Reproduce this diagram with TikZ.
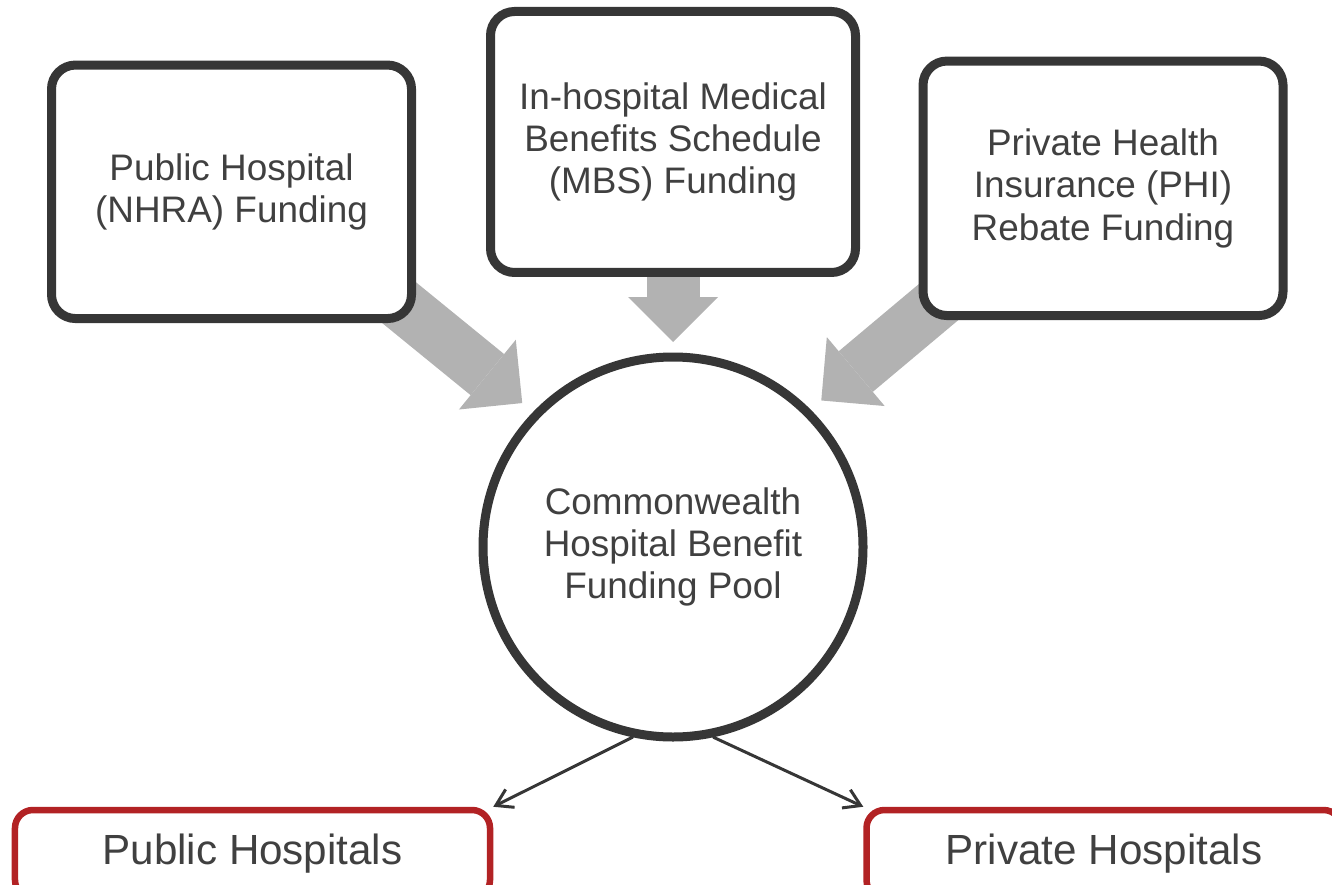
\documentclass[tikz,border=0pt]{standalone}
\usepackage{fontspec}
\setmainfont{Liberation Sans}
\usetikzlibrary{arrows.meta,backgrounds}

\definecolor{boxline}{RGB}{54,54,54}
\definecolor{boxtext}{RGB}{64,64,64}
\definecolor{hospred}{RGB}{178,34,36}
\definecolor{flowgray}{RGB}{178,178,178}

\tikzset{
  fundbox/.style={draw=boxline, line width=0.09cm, rounded corners=0.24cm, fill=white,
    text=boxtext, align=center, font=\fontsize{10.5}{12}\selectfont},
  poolnode/.style={circle, draw=boxline, line width=0.09cm, fill=white, text=boxtext,
    align=center, minimum size=3.8cm, font=\fontsize{10.5}{12}\selectfont},
  hospbox/.style={draw=hospred, line width=0.065cm, rounded corners=0.18cm, fill=white,
    text=boxtext, minimum width=4.75cm, minimum height=0.88cm, font=\fontsize{12}{14}\selectfont},
  feed/.style={draw=flowgray, line width=0.53cm, -{Triangle[width=0.9cm,length=0.45cm,line width=0pt]}},
  payout/.style={draw=boxline, line width=0.03cm, line cap=round, -{Straight Barb[length=0.16cm,width=0.2cm]}}
}

\begin{document}
\begin{tikzpicture}
\useasboundingbox (0,0) rectangle (13.32,-8.84);

% funding sources
\node[fundbox, minimum width=3.6cm, minimum height=2.535cm] (nhra) at (2.315,-1.918) {Public Hospital\\(NHRA) Funding};
\node[fundbox, minimum width=3.65cm, minimum height=2.61cm] (mbs) at (6.73,-1.42) {In-hospital Medical\\Benefits Schedule\\(MBS) Funding};
\node[fundbox, minimum width=3.6cm, minimum height=2.545cm] (phi) at (11.03,-1.883) {Private Health\\Insurance (PHI)\\Rebate Funding};

\node[poolnode] (pool) at (6.73,-5.47) {Commonwealth\\Hospital Benefit\\Funding Pool};

\node[hospbox] (pub) at (2.525,-8.54) {Public Hospitals};
\node[hospbox] (priv) at (11.04,-8.54) {Private Hospitals};

% flows into the pool
\begin{pgfonlayer}{background}
\draw[feed, shorten >=0.14cm] ([shift={(-0.475,0.453)}]nhra.south east) -- (pool.136);
\draw[feed, shorten >=0.105cm] ([yshift=0.2cm]mbs.south) -- (pool.north);
\draw[feed, shorten >=0.14cm] ([shift={(0.493,0.425)}]phi.south west) -- (pool.45);
\end{pgfonlayer}

% payments out
\draw[payout] (pool.258) -- (pub.north east);
\draw[payout] (pool.282) -- (priv.north west);
\end{tikzpicture}
\end{document}
